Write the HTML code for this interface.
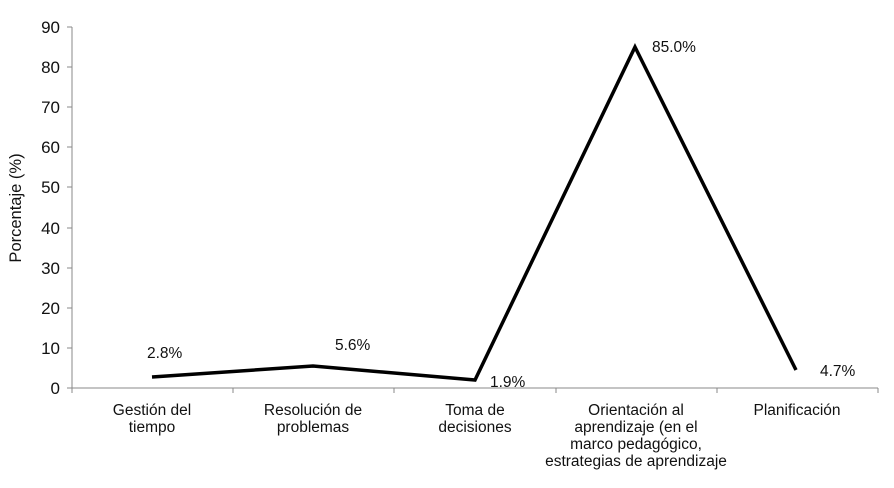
<!DOCTYPE html>
<html><head><style>
body{margin:0;background:#fff;}
svg text{font-family:"Liberation Sans",sans-serif;font-size:15.5px;fill:#111;}
</style></head><body>
<svg width="894" height="483" xmlns="http://www.w3.org/2000/svg">
<g stroke="#888" stroke-width="1">
<line x1="72" y1="27" x2="72" y2="388"/>
<line x1="72" y1="388" x2="878" y2="388"/>
<line x1="67" y1="27" x2="72" y2="27"/><line x1="67" y1="67" x2="72" y2="67"/>
<line x1="67" y1="107" x2="72" y2="107"/><line x1="67" y1="147" x2="72" y2="147"/>
<line x1="67" y1="187" x2="72" y2="187"/><line x1="67" y1="228" x2="72" y2="228"/>
<line x1="67" y1="268" x2="72" y2="268"/><line x1="67" y1="308" x2="72" y2="308"/>
<line x1="67" y1="348" x2="72" y2="348"/><line x1="67" y1="388" x2="72" y2="388"/>
<line x1="72" y1="388" x2="72" y2="393"/><line x1="233" y1="388" x2="233" y2="393"/>
<line x1="394" y1="388" x2="394" y2="393"/><line x1="556" y1="388" x2="556" y2="393"/>
<line x1="717" y1="388" x2="717" y2="393"/><line x1="878" y1="388" x2="878" y2="393"/>
</g>
<g text-anchor="end">
<text x="60" y="33" style="font-size:17px">90</text><text x="60" y="73" style="font-size:17px">80</text>
<text x="60" y="113" style="font-size:17px">70</text><text x="60" y="153" style="font-size:17px">60</text>
<text x="60" y="193" style="font-size:17px">50</text><text x="60" y="234" style="font-size:17px">40</text>
<text x="60" y="274" style="font-size:17px">30</text><text x="60" y="314" style="font-size:17px">20</text>
<text x="60" y="354" style="font-size:17px">10</text><text x="60" y="394" style="font-size:17px">0</text>
</g>
<text transform="translate(21,208) rotate(-90)" text-anchor="middle" style="font-size:16.5px">Porcentaje (%)</text>
<polyline points="152,377 313,366 475,380 635,47 796,370" fill="none" stroke="#000" stroke-width="3.5" stroke-linejoin="miter"/>
<text x="147" y="358">2.8%</text>
<text x="335" y="350">5.6%</text>
<text x="490" y="387">1.9%</text>
<text x="652" y="52">85.0%</text>
<text x="820" y="376">4.7%</text>
<g text-anchor="middle">
<text x="152" y="415">Gestión del</text><text x="152" y="432">tiempo</text>
<text x="313" y="415">Resolución de</text><text x="313" y="432">problemas</text>
<text x="475" y="415">Toma de</text><text x="475" y="432">decisiones</text>
<text x="636" y="415">Orientación al</text><text x="636" y="432">aprendizaje (en el</text>
<text x="636" y="449">marco pedagógico,</text><text x="636" y="466">estrategias de aprendizaje</text>
<text x="797" y="415">Planificación</text>
</g>
</svg>
</body></html>
